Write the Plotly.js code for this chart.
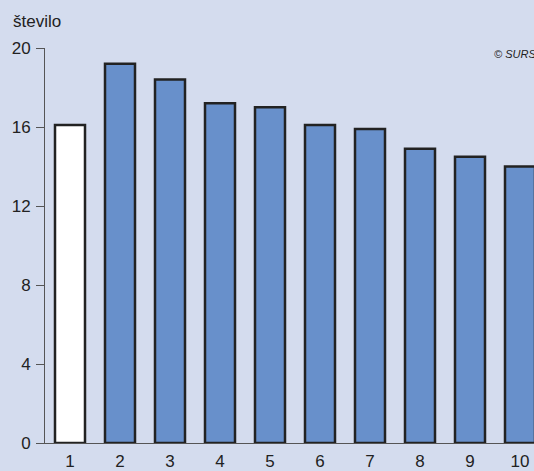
<!DOCTYPE html>
<html><head><meta charset="utf-8">
<script src="https://cdn.plot.ly/plotly-3.0.1.min.js"></script>
<style>body{margin:0;padding:0;background:#d4dcee}#chart{width:534px;height:471px}</style>
</head><body><div id="chart"></div>
<script>
const categories = ['1','2','3','4','5','6','7','8','9','10'];
const values = [16.1, 19.2, 18.4, 17.2, 17.0, 16.1, 15.9, 14.9, 14.5, 14.0];
const yTicks = [0, 4, 8, 12, 16, 20];
const yTitle = 'število';
const source = '© SURS';

const xs = categories.map(Number);
const colors = xs.map((x, i) => i === 0 ? '#ffffff' : '#6890cb');

const trace = {
  type: 'bar', x: xs, y: values, width: 0.6,
  marker: {color: colors, line: {color: '#222222', width: 2.5}},
  hoverinfo: 'none'
};
const layout = {
  width: 534, height: 471,
  margin: {l: 45, r: 0, t: 47.5, b: 28.3, pad: 0},
  paper_bgcolor: '#d4dcee', plot_bgcolor: '#d4dcee',
  showlegend: false,
  font: {family: 'Liberation Sans, Arial, sans-serif', size: 17, color: '#222222'},
  xaxis: {range: [0.5, 10.28], tickvals: xs, ticktext: categories, showgrid: false, zeroline: false,
    showline: true, linecolor: '#555555', linewidth: 1, ticks: '', ticklen: 0, ticklabelstandoff: 3, tickfont: {size: 17}},
  yaxis: {range: [0, 20], tickvals: yTicks, showgrid: false, zeroline: false, showline: true,
    linecolor: '#555555', linewidth: 1, ticks: 'outside', ticklen: 8, tickcolor: '#555555', tickwidth: 1,
    ticklabelstandoff: 2, tickfont: {size: 17}},
  annotations: [
    {text: yTitle, xref: 'paper', yref: 'paper', x: -45/489 + 11/489, y: 1, yshift: 27, xanchor: 'left', yanchor: 'middle', showarrow: false, font: {size: 17}},
    {text: '<i>' + source + '</i>', xref: 'paper', yref: 'paper', x: (492-45)/489, y: 1, yshift: -6, xanchor: 'left', yanchor: 'middle', showarrow: false, font: {size: 11}}
  ]
};
Plotly.newPlot('chart', [trace], layout, {displayModeBar: false, staticPlot: true});
</script></body></html>
